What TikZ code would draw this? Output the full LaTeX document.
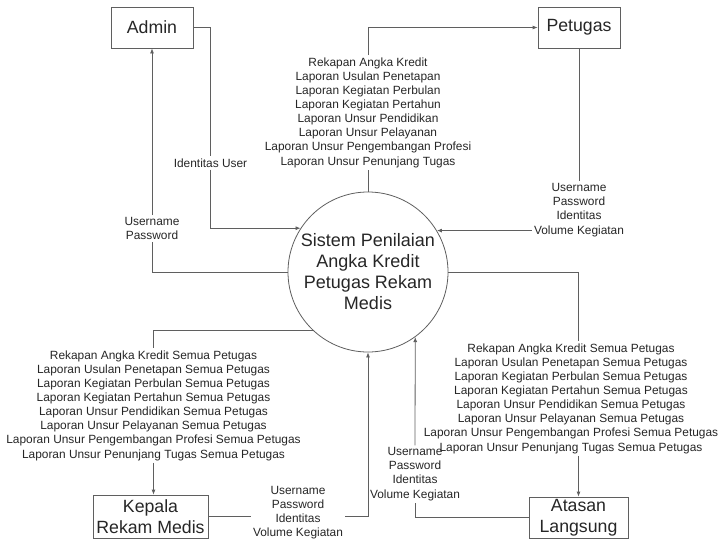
\documentclass[tikz,border=0pt]{standalone}
\usepackage{fontspec}
\setmainfont{Liberation Sans}
\usetikzlibrary{arrows.meta}
\definecolor{linec}{HTML}{5F5F5F}
\definecolor{txtc}{HTML}{262626}
\begin{document}
\begin{tikzpicture}[x=1pt,y=-1pt,
  ent/.style={draw=linec, line width=0.8pt, rectangle, inner sep=0pt, align=center,
    text=txtc, font=\fontsize{17.7}{20.5}\selectfont},
  proc/.style={draw=linec, line width=0.8pt, circle, minimum size=160pt, inner sep=0pt,
    align=center, text=txtc, font=\fontsize{18}{21}\selectfont},
  lbl/.style={align=center, inner sep=2pt, text=txtc, font=\fontsize{11.9}{14.15}\selectfont},
  link/.style={draw=linec, line width=0.8pt},
  flow/.style={link, -{Latex[length=5pt,width=4pt]}}]
\useasboundingbox (0,0) rectangle (720,541);

% external entities and the process
\node[ent, minimum width=82pt, minimum height=41pt] (admin) at (152,27.5) {Admin};
\node[ent, minimum width=82pt, minimum height=41pt] (petugas) at (579,27.5) {Petugas};
\node[ent, minimum width=115pt, minimum height=43pt] (kepala) at (150.5,516.5) {Kepala\\Rekam Medis};
\node[ent, minimum width=99pt, minimum height=41pt] (atasan) at (578.5,517.5) {Atasan\\Langsung};
\node[proc] (sys) at (368,272) {Sistem Penilaian\\Angka Kredit\\Petugas Rekam\\Medis};

% data flow labels
\node[lbl] (ulabel) at (210.5,163) {Identitas User};
\node[lbl] (alabel) at (152,228.5) {Username\\Password};
\node[lbl] (tlabel) at (368,112.5) {Rekapan Angka Kredit\\Laporan Usulan Penetapan\\Laporan Kegiatan Perbulan\\Laporan Kegiatan Pertahun\\Laporan Unsur Pendidikan\\Laporan Unsur Pelayanan\\Laporan Unsur Pengembangan Profesi\\Laporan Unsur Penunjang Tugas};
\node[lbl] (plabel) at (579,210) {Username\\Password\\Identitas\\Volume Kegiatan};
\node[lbl] (llabel) at (153.5,405.5) {Rekapan Angka Kredit Semua Petugas\\Laporan Usulan Penetapan Semua Petugas\\Laporan Kegiatan Perbulan Semua Petugas\\Laporan Kegiatan Pertahun Semua Petugas\\Laporan Unsur Pendidikan Semua Petugas\\Laporan Unsur Pelayanan Semua Petugas\\Laporan Unsur Pengembangan Profesi Semua Petugas\\Laporan Unsur Penunjang Tugas Semua Petugas};
\node[lbl] (rlabel) at (571,398.5) {Rekapan Angka Kredit Semua Petugas\\Laporan Usulan Penetapan Semua Petugas\\Laporan Kegiatan Perbulan Semua Petugas\\Laporan Kegiatan Pertahun Semua Petugas\\Laporan Unsur Pendidikan Semua Petugas\\Laporan Unsur Pelayanan Semua Petugas\\Laporan Unsur Pengembangan Profesi Semua Petugas\\Laporan Unsur Penunjang Tugas Semua Petugas};
\node[lbl] (blabel1) at (298,512.5) {Username\\Password\\Identitas\\Volume Kegiatan};
\node[lbl] (blabel2) at (415,474) {Username\\Password\\Identitas\\Volume Kegiatan};

% Admin
\draw[link] (admin.east) -| (ulabel.north);
\draw[flow] (ulabel.south) |- (sys.147.5);
\draw[link] (sys.west) -| (alabel.south);
\draw[flow] (alabel.north) -- (admin.south);

% Petugas
\draw[link] (sys.north) -- (tlabel.south);
\draw[flow] (tlabel.north) |- (petugas.west);
\draw[link] (petugas.south) -- (plabel.north);
\draw[flow] (plabel.west |- sys.31.7) -- (sys.31.7);

% Kepala Rekam Medis
\draw[link] (sys.227.5) -| (llabel.north);
\draw[flow] (llabel.south) -- (llabel.south |- kepala.north);
\draw[link] (kepala.east) -- (kepala.east -| blabel1.west);
\draw[flow] (blabel1.east |- kepala.east) -| (sys.south);

% Atasan Langsung
\draw[link] (sys.east) -| (atasan.north |- rlabel.north);
\draw[flow] (atasan.north |- rlabel.south) -- (atasan.north);
\draw[link] (atasan.west) -| (blabel2.south);
\draw[flow] (blabel2.north) -- (sys.-54.02);
\end{tikzpicture}
\end{document}
